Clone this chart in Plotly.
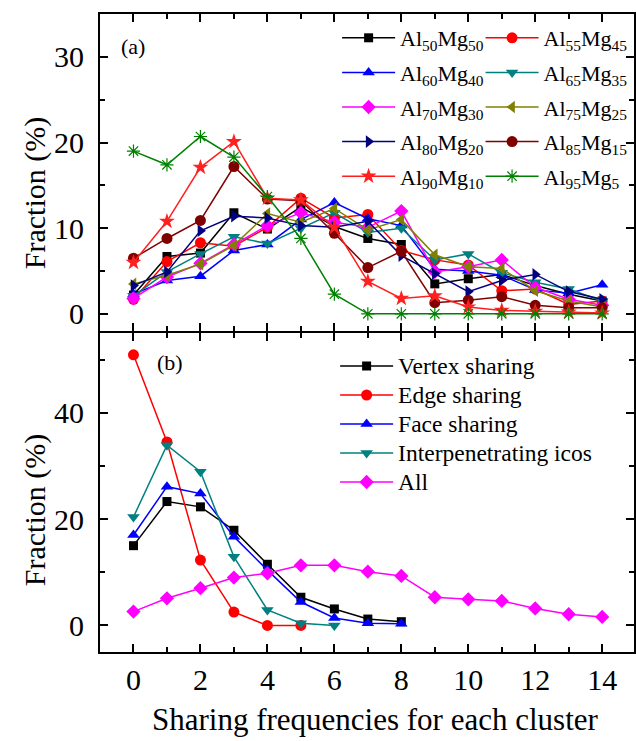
import plotly.graph_objects as go

# ---------------- data ----------------
x_a = [0, 1, 2, 3, 4, 5, 6, 7, 8, 9, 10, 11, 12, 13, 14]

al50mg50 = [2.2, 6.7, 7.1, 11.8, 9.9, 12.5, 10.2, 8.8, 8.1, 3.5, 4.1, 4.6, 3.3, 2.3, 1.5]
al55mg45 = [1.7, 6.1, 8.3, 7.9, 10.1, 13.5, 11.2, 11.6, 7.4, 6.3, 5.7, 2.7, 2.9, 1.1, 1.5]
al60mg40 = [2.3, 3.9, 4.4, 7.4, 8.1, 11.0, 13.0, 11.1, 10.3, 5.2, 5.0, 4.5, 2.8, 2.4, 3.4]
al65mg35 = [2.1, 4.9, 7.0, 9.0, 8.2, 10.0, 11.8, 9.5, 10.0, 6.3, 7.0, 4.8, 3.7, 2.9, 1.5]
al70mg30 = [1.8, 4.3, 5.9, 8.1, 10.3, 11.8, 10.7, 10.1, 12.0, 4.9, 5.5, 6.3, 3.1, 1.7, 1.0]
al75mg25 = [3.5, 4.5, 5.8, 8.0, 11.7, 10.7, 12.3, 9.8, 11.0, 6.9, 5.5, 5.3, 2.7, 1.5, 0.8]
al80mg20 = [3.3, 4.9, 9.7, 11.4, 11.2, 10.3, 10.1, 10.8, 6.8, 4.7, 2.6, 3.9, 4.6, 2.6, 1.7]
al85mg15 = [6.5, 8.8, 10.9, 17.2, 13.4, 13.2, 9.4, 5.4, 7.3, 1.3, 1.6, 2.0, 1.0, 0.7, 0.7]
al90mg10 = [6.0, 10.8, 17.1, 20.1, 13.5, 13.3, 10.1, 3.8, 1.8, 2.1, 0.8, 0.4, 0.3, 0.2, 0.1]
al95mg5 = [19.0, 17.4, 20.7, 18.3, 13.7, 8.8, 2.3, 0, 0, 0, 0, 0, 0, 0, 0]

vertex_x = [0, 1, 2, 3, 4, 5, 6, 7, 8]
vertex = [15.0, 23.3, 22.3, 17.9, 11.5, 5.3, 3.1, 1.2, 0.7]
edge_x = [0, 1, 2, 3, 4, 5]
edge = [50.9, 34.5, 12.3, 2.5, 0.0, 0.0]
face_x = [0, 1, 2, 3, 4, 5, 6, 7, 8]
face = [17.0, 26.1, 24.8, 16.7, 10.4, 4.4, 1.4, 0.4, 0.3]
icos_x = [0, 1, 2, 3, 4, 5, 6]
icos = [20.4, 33.9, 28.9, 12.9, 2.9, 0.4, 0.0]
all_x = [0, 1, 2, 3, 4, 5, 6, 7, 8, 9, 10, 11, 12, 13, 14]
all_ = [2.6, 5.1, 7.0, 9.0, 9.8, 11.3, 11.3, 10.1, 9.3, 5.3, 4.9, 4.6, 3.2, 2.1, 1.6]

x_ticks = [0, 2, 4, 6, 8, 10, 12, 14]

# ---------------- styling ----------------
W, H = 636, 741
ML, MR, MT, MB = 100, 0, 14, 89
PW, PH = W - ML - MR, H - MT - MB
SPLIT = (652 - 332) / PH  # fraction for panel (b)
GAP = 1 / PH

FONT = "Liberation Serif"


def px(xp):
    return (xp - ML) / PW


def py(yp):
    return (H - MB - yp) / PH


series_a = [
    ("Al<sub>50</sub>Mg<sub>50</sub>", al50mg50, "#000000", "square", 9, "legend"),
    ("Al<sub>55</sub>Mg<sub>45</sub>", al55mg45, "#FF0000", "circle", 11, "legend2"),
    ("Al<sub>60</sub>Mg<sub>40</sub>", al60mg40, "#0000FF", "triangle-up", 11, "legend"),
    ("Al<sub>65</sub>Mg<sub>35</sub>", al65mg35, "#008080", "triangle-down", 11, "legend2"),
    ("Al<sub>70</sub>Mg<sub>30</sub>", al70mg30, "#FF00FF", "diamond", 11, "legend"),
    ("Al<sub>75</sub>Mg<sub>25</sub>", al75mg25, "#808000", "triangle-left", 11, "legend2"),
    ("Al<sub>80</sub>Mg<sub>20</sub>", al80mg20, "#000080", "triangle-right", 11, "legend"),
    ("Al<sub>85</sub>Mg<sub>15</sub>", al85mg15, "#800000", "circle", 11, "legend2"),
    ("Al<sub>90</sub>Mg<sub>10</sub>", al90mg10, "#FF2020", "star", 12, "legend"),
    ("Al<sub>95</sub>Mg<sub>5</sub>", al95mg5, "#008000", "asterisk-open", 11, "legend2"),
]

fig = go.Figure()
for i, (name, ys, col, sym, size, lg) in enumerate(series_a):
    marker = dict(symbol=sym, size=size, color=col)
    if sym == "asterisk-open":
        marker["line"] = dict(color=col, width=1.2)
    fig.add_trace(go.Scatter(
        x=x_a, y=ys, name=name, mode="lines+markers",
        line=dict(color=col, width=1.5), marker=marker,
        xaxis="x2", yaxis="y", legend=lg, legendgroup=f"g{i}",
    ))

series_b = [
    ("Vertex sharing", vertex_x, vertex, "#000000", "square", 9),
    ("Edge sharing", edge_x, edge, "#FF0000", "circle", 11),
    ("Face sharing", face_x, face, "#0000FF", "triangle-up", 11),
    ("Interpenetrating icos", icos_x, icos, "#008080", "triangle-down", 11),
    ("All", all_x, all_, "#FF00FF", "diamond", 11),
]
for name, xs, ys, col, sym, size in series_b:
    fig.add_trace(go.Scatter(
        x=xs, y=ys, name=f'<span style="font-size:23.5px">{name}</span>',
        mode="lines+markers",
        line=dict(color=col, width=1.5), marker=dict(symbol=sym, size=size, color=col),
        xaxis="x", yaxis="y2", legend="legend3",
    ))

axis_common = dict(
    showline=True, linecolor="black", linewidth=2, mirror="ticks",
    ticks="inside", ticklen=8, tickwidth=1.5, tickcolor="black",
    showgrid=False, zeroline=False,
    tickfont=dict(family=FONT, size=30, color="black"),
)
xminor = dict(ticks="inside", ticklen=5, dtick=1, tick0=0, tickcolor="black", tickwidth=1.5)

fig.update_layout(
    width=W, height=H,
    margin=dict(l=ML, r=MR, t=MT, b=MB),
    paper_bgcolor="white", plot_bgcolor="white",
    font=dict(family=FONT, color="black"),
    xaxis=dict(domain=[0, 1], anchor="y2", range=[-1, 14.95],
               tickvals=x_ticks, ticklabelstandoff=0, minor=xminor, **axis_common),
    xaxis2=dict(domain=[0, 1], anchor="y", matches="x", range=[-1, 14.95],
                tickvals=x_ticks, showticklabels=False, minor=xminor, **axis_common),
    yaxis=dict(domain=[SPLIT + GAP, 1], anchor="x2", range=[-2, 35],
               tickvals=[0, 10, 20, 30], ticklabelstandoff=8,
               minor=dict(ticks="inside", ticklen=5, dtick=5, tick0=0, tickcolor="black", tickwidth=1.5),
               **axis_common),
    yaxis2=dict(domain=[0, SPLIT - GAP], anchor="x", range=[-5, 55],
                tickvals=[0, 20, 40], ticklabelstandoff=8,
                minor=dict(ticks="inside", ticklen=5, dtick=10, tick0=0, tickcolor="black", tickwidth=1.5),
                **axis_common),
    legend=dict(x=px(338), y=py(17), xanchor="left", yanchor="top",
                bgcolor="rgba(0,0,0,0)", borderwidth=0, itemwidth=53,
                tracegroupgap=3, font=dict(family=FONT, size=22, color="black")),
    legend2=dict(x=px(482), y=py(17), xanchor="left", yanchor="top",
                 bgcolor="rgba(0,0,0,0)", borderwidth=0, itemwidth=53,
                 tracegroupgap=3, font=dict(family=FONT, size=22, color="black")),
    legend3=dict(x=px(336), y=py(346.5), xanchor="left", yanchor="top",
                 bgcolor="rgba(0,0,0,0)", borderwidth=0, itemwidth=53,
                 font=dict(family=FONT, size=20, color="black")),
    showlegend=True,
)

annos = [
    dict(text="(a)", x=px(133), y=py(47), font=dict(size=22)),
    dict(text="(b)", x=px(170), y=py(362), font=dict(size=22)),
    dict(text="Fraction (%)", x=px(35), y=py(193), textangle=-90, font=dict(size=30)),
    dict(text="Fraction (%)", x=px(35), y=py(510), textangle=-90, font=dict(size=30)),
    dict(text="Sharing frequencies for each cluster", x=px(377), y=py(719), font=dict(size=31)),
]
for a in annos:
    a.update(xref="paper", yref="paper", showarrow=False, xanchor="center", yanchor="middle")
    a["font"] = dict(family=FONT, color="black", **a["font"])
    fig.add_annotation(**a)

fig.write_html("out.html")
